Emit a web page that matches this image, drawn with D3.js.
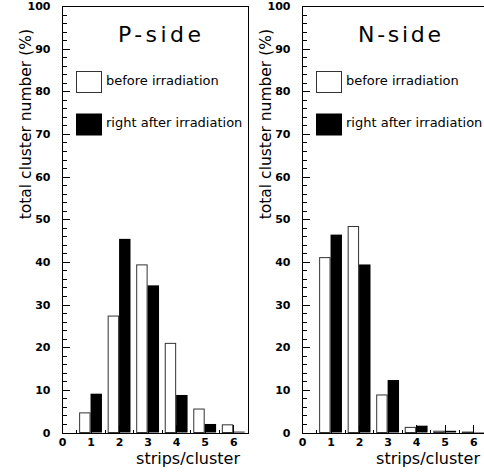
<!DOCTYPE html>
<html>
<head>
<meta charset="utf-8">
<script src="https://cdn.jsdelivr.net/npm/d3@7"></script>
<style>
  body { margin: 0; background: #fff; }
  svg { display: block; font-family: "DejaVu Sans", sans-serif; }
</style>
</head>
<body>
<div class="chart"></div>
<script>
// data (percent of clusters per strips/cluster bin)
const bins = [1, 2, 3, 4, 5, 6];
const pBefore = [4.6, 27.3, 39.3, 20.9, 5.5, 1.8];
const pAfter = [9.1, 45.4, 34.5, 8.8, 2.0, 0.2];
const nBefore = [41.0, 48.3, 8.8, 1.2, 0.3, 0.1];
const nAfter = [46.4, 39.4, 12.3, 1.6, 0.4, 0.1];
const yTicks = [0, 10, 20, 30, 40, 50, 60, 70, 80, 90, 100];
const xTicks = [0, 1, 2, 3, 4, 5, 6];
const legendLabels = ["before irradiation", "right after irradiation"];

let svgWidth = 484;
let svgHeight = 473;

let svg = d3.select(".chart")
            .append("svg")
            .attr("width", svgWidth)
            .attr("height", svgHeight);

const panels = [
  {title: "P-side", before: pBefore, after: pAfter, left: 62},
  {title: "N-side", before: nBefore, after: nAfter, left: 302}
];

panels.forEach(p => {
  let chart = svg.append("g");

  let x = d3.scaleLinear().domain([0, 6.5]).range([p.left, p.left + 185.5]);
  let y = d3.scaleLinear().domain([0, 100]).range([432.5, 6]);

  // bars: white = before, black = after
  const half = 0.4;
  chart.selectAll("rect.before")
       .data(bins)
       .enter().append("rect")
       .attr("class", "before")
       .attr("x", d => x(d - half) + 0.5)
       .attr("y", (d, i) => y(p.before[i]))
       .attr("width", d => x(d) - x(d - half) - 1)
       .attr("height", (d, i) => y(0) - y(p.before[i]))
       .attr("fill", "#fff")
       .attr("stroke", "#333")
       .attr("stroke-width", 1);

  chart.selectAll("rect.after")
       .data(bins)
       .enter().append("rect")
       .attr("class", "after")
       .attr("x", d => x(d))
       .attr("y", (d, i) => y(p.after[i]))
       .attr("width", d => x(d + half) - x(d))
       .attr("height", (d, i) => y(0) - y(p.after[i]))
       .attr("fill", "#000");

  // frame
  chart.append("rect")
       .attr("x", x(0) + 0.5)
       .attr("y", y(100) + 0.5)
       .attr("width", x(6.5) - x(0))
       .attr("height", y(0) - y(100))
       .attr("fill", "none")
       .attr("stroke", "#000")
       .attr("shape-rendering", "crispEdges");

  // y axis, ticks pointing inward
  let yMajor = d3.axisLeft(y).tickValues(yTicks).tickSize(-7).tickPadding(12);
  let yMinor = d3.axisLeft(y).tickValues(d3.range(0, 101, 2)).tickSize(-4).tickFormat("");
  chart.append("g").attr("transform", `translate(${x(0) + 0.5},0)`).call(yMinor);
  let ya = chart.append("g").attr("transform", `translate(${x(0) + 0.5},0)`).call(yMajor);
  ya.selectAll("text").attr("font-size", 11).attr("font-weight", "bold")
    .attr("font-family", "DejaVu Sans").attr("fill", "#000");

  // x axis, ticks pointing up
  let xMajor = d3.axisBottom(x).tickValues(xTicks).tickSize(-8).tickPadding(5).tickFormat(d3.format("d"));
  let xMinor = d3.axisBottom(x).tickValues([0.5, 1.5, 2.5, 3.5, 4.5, 5.5]).tickSize(-3).tickFormat("");
  chart.append("g").attr("transform", `translate(0,${y(0) + 0.5})`).call(xMinor);
  let xa = chart.append("g").attr("transform", `translate(0,${y(0) + 0.5})`).call(xMajor);
  xa.selectAll("text").attr("font-size", 11).attr("font-weight", "bold")
    .attr("font-family", "DejaVu Sans").attr("fill", "#000");

  chart.selectAll(".domain").remove();
  chart.selectAll(".tick line").attr("stroke", "#000").attr("shape-rendering", "crispEdges");

  // axis titles
  chart.append("text")
       .attr("transform", `translate(${p.left - 31},29) rotate(-90)`)
       .attr("text-anchor", "end")
       .attr("font-size", 15.5)
       .text("total cluster number (%)");

  chart.append("text")
       .attr("x", p.left + 178)
       .attr("y", 464)
       .attr("text-anchor", "end")
       .attr("font-size", 16)
       .text("strips/cluster");

  // panel title
  chart.append("text")
       .attr("x", p.left + 56)
       .attr("y", 42)
       .attr("font-size", 22)
       .attr("textLength", 83)
       .attr("lengthAdjust", "spacing")
       .text(p.title);

  // legend
  const legendFill = ["#fff", "#000"];
  legendLabels.forEach((lab, i) => {
    chart.append("rect")
         .attr("x", p.left + 14.5)
         .attr("y", 71.5 + i * 42.5)
         .attr("width", 25)
         .attr("height", 21)
         .attr("fill", legendFill[i])
         .attr("stroke", i == 0 ? "#333" : "#000");
    chart.append("text")
         .attr("x", p.left + 44)
         .attr("y", 84.5 + i * 42.5)
         .attr("font-size", 13)
         .text(lab);
  });
});
</script>
</body>
</html>
